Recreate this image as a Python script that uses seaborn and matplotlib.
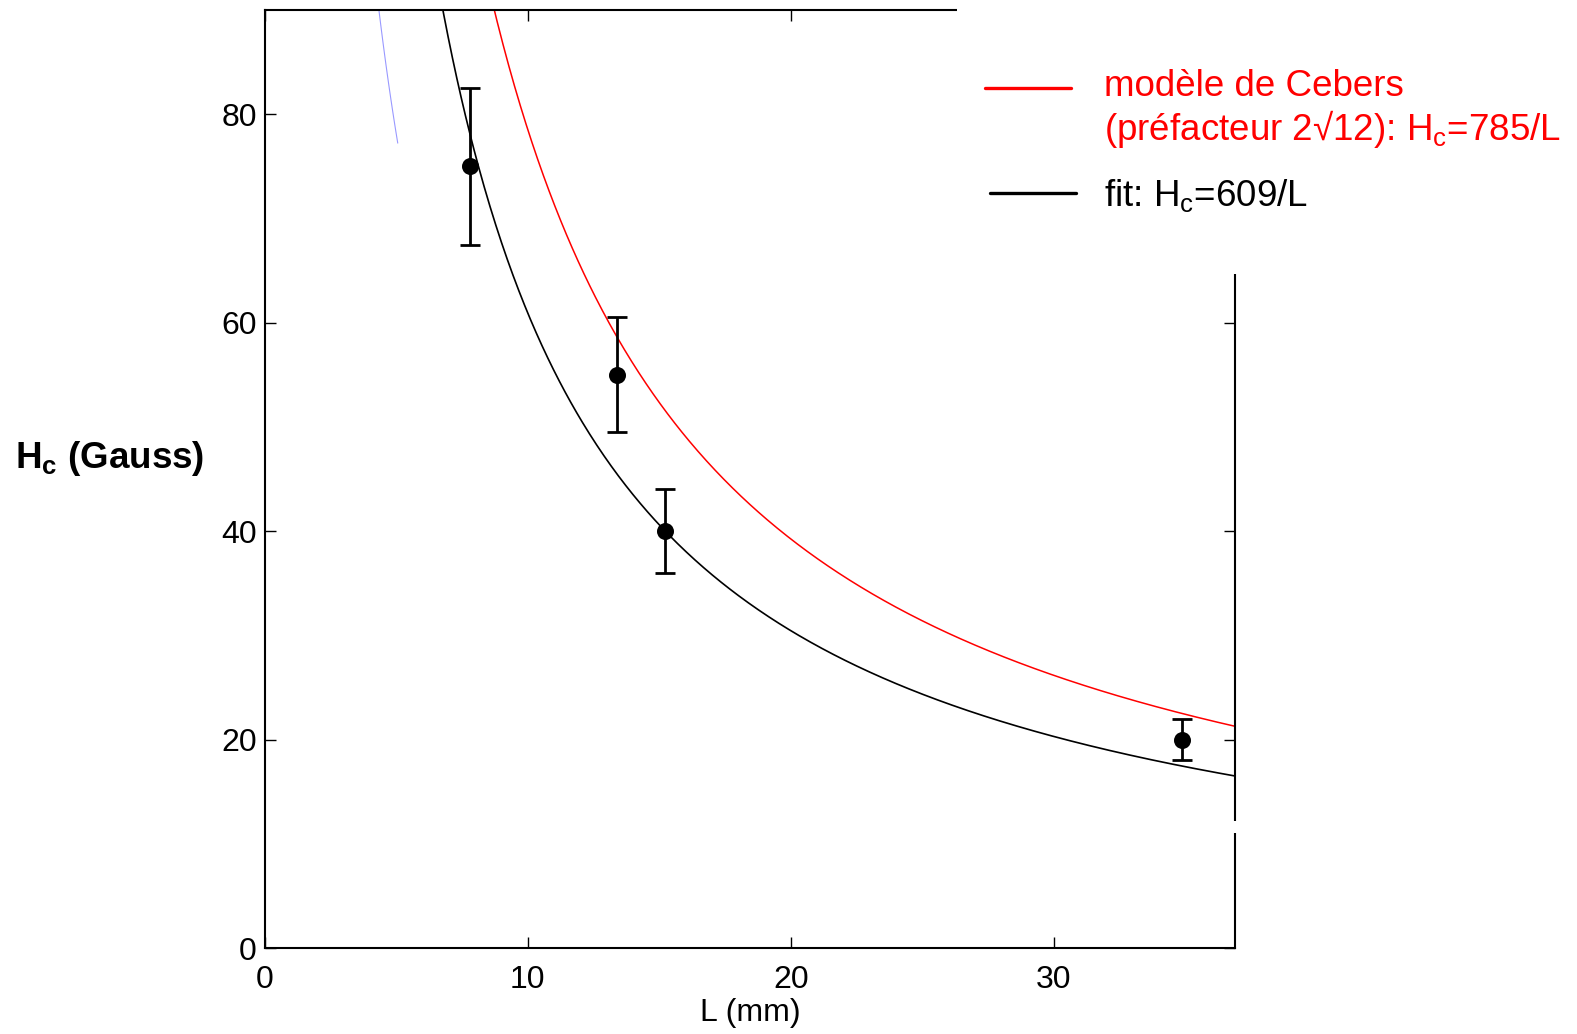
import matplotlib
matplotlib.use("Agg")
import matplotlib.pyplot as plt
from matplotlib.lines import Line2D
from matplotlib.patches import Rectangle
import numpy as np
import seaborn as sns

# measured critical field vs length
L_data = [7.8, 13.4, 15.2, 34.9]
Hc_data = [75.0, 55.0, 40.0, 20.0]
Hc_err = [7.5, 5.5, 4.0, 2.0]

# curve prefactors (Hc = coef / L)
cebers_coef = 785
fit_coef = 609
faint_coef = 390  # faded blue trace near the top left

x_ticks = [0, 10, 20, 30]
y_ticks = [0, 20, 40, 60, 80]

sns.set_theme(style="ticks")
plt.rcParams["font.family"] = ["Liberation Sans", "DejaVu Sans"]
plt.rcParams["mathtext.fontset"] = "custom"
plt.rcParams["mathtext.rm"] = "Liberation Sans"
plt.rcParams["mathtext.bf"] = "Liberation Sans:bold"
plt.rcParams["mathtext.it"] = "Liberation Sans:italic"
plt.rcParams["mathtext.default"] = "regular"
plt.rcParams["text.color"] = "black"
plt.rcParams["axes.labelcolor"] = "black"

W, H = 1577, 1034
fig = plt.figure(figsize=(W / 100, H / 100), dpi=100)
ax = fig.add_axes([265 / W, 86 / H, 970 / W, 938 / H])


def fx(px):
    return px / W


def fy(py):
    return 1 - py / H


L_curve = np.linspace(4.0, 36.9, 600)
sns.lineplot(x=L_curve, y=cebers_coef / L_curve, color="#ff0000", linewidth=1.1, ax=ax)
sns.lineplot(x=L_curve, y=fit_coef / L_curve, color="black", linewidth=1.2, ax=ax)

L_faint = np.linspace(4.33, 5.05, 30)
sns.lineplot(x=L_faint, y=faint_coef / L_faint, color="blue", linewidth=0.8, alpha=0.4, ax=ax)

ax.errorbar(L_data, Hc_data, yerr=Hc_err, fmt="none", ecolor="black",
            elinewidth=2.0, capsize=7, capthick=2.0, zorder=3)
sns.scatterplot(x=L_data, y=Hc_data, color="black", s=150, edgecolor="black",
                linewidth=0, zorder=4, ax=ax)

ax.set_xlim(0, 36.9)
ax.set_ylim(0, 90)
ax.set_xticks(x_ticks)
ax.set_yticks(y_ticks)
ax.tick_params(direction="in", top=True, right=True, length=8, width=1.0,
               labelsize=23, colors="black")
ax.tick_params(axis="x", pad=12)
ax.tick_params(axis="y", pad=6)
for sp in ax.spines.values():
    sp.set_linewidth(1.5)
    sp.set_color("black")

ax.set_xlabel("L (mm)", fontsize=23, va="center")
ax.xaxis.set_label_coords(0.5, (948 - 1013) / 938)
ax.set_ylabel(r"$\mathbf{H_c}$ (Gauss)", fontsize=26.5, fontweight="bold",
              rotation=0, ha="center", va="center")
ax.yaxis.set_label_coords((110 - 265) / 970, (948 - 459) / 938)

# white box hiding the top-right corner of the frame (legend area)
ax.add_patch(Rectangle((fx(957), fy(274)), 1 - fx(957), fy(0) - fy(274),
                       transform=fig.transFigure, facecolor="white",
                       edgecolor="none", clip_on=False, zorder=5))
ax.add_patch(Rectangle((fx(1229), fy(833)), fx(12), fy(821) - fy(833),
                       transform=fig.transFigure, facecolor="white",
                       edgecolor="none", clip_on=False, zorder=5))

# legend
fig.add_artist(Line2D([fx(985), fx(1071)], [fy(88), fy(88)], color="#ff0000",
                      linewidth=2.4, zorder=6))
fig.add_artist(Line2D([fx(990), fx(1076)], [fy(193), fy(193)], color="black",
                      linewidth=2.4, zorder=6))
fig.text(fx(1104), fy(96), "modèle de Cebers", color="#ff0000", fontsize=26.5,
         va="baseline", ha="left", zorder=6)
fig.text(fx(1104), fy(140), r"(préfacteur 2√12): $H_c$=785/L", color="#ff0000",
         fontsize=26.5, va="baseline", ha="left", zorder=6)
fig.text(fx(1104), fy(206), r"fit: $H_c$=609/L", color="black", fontsize=26.5,
         va="baseline", ha="left", zorder=6)

fig.savefig("out.png", dpi=100, facecolor="white")
